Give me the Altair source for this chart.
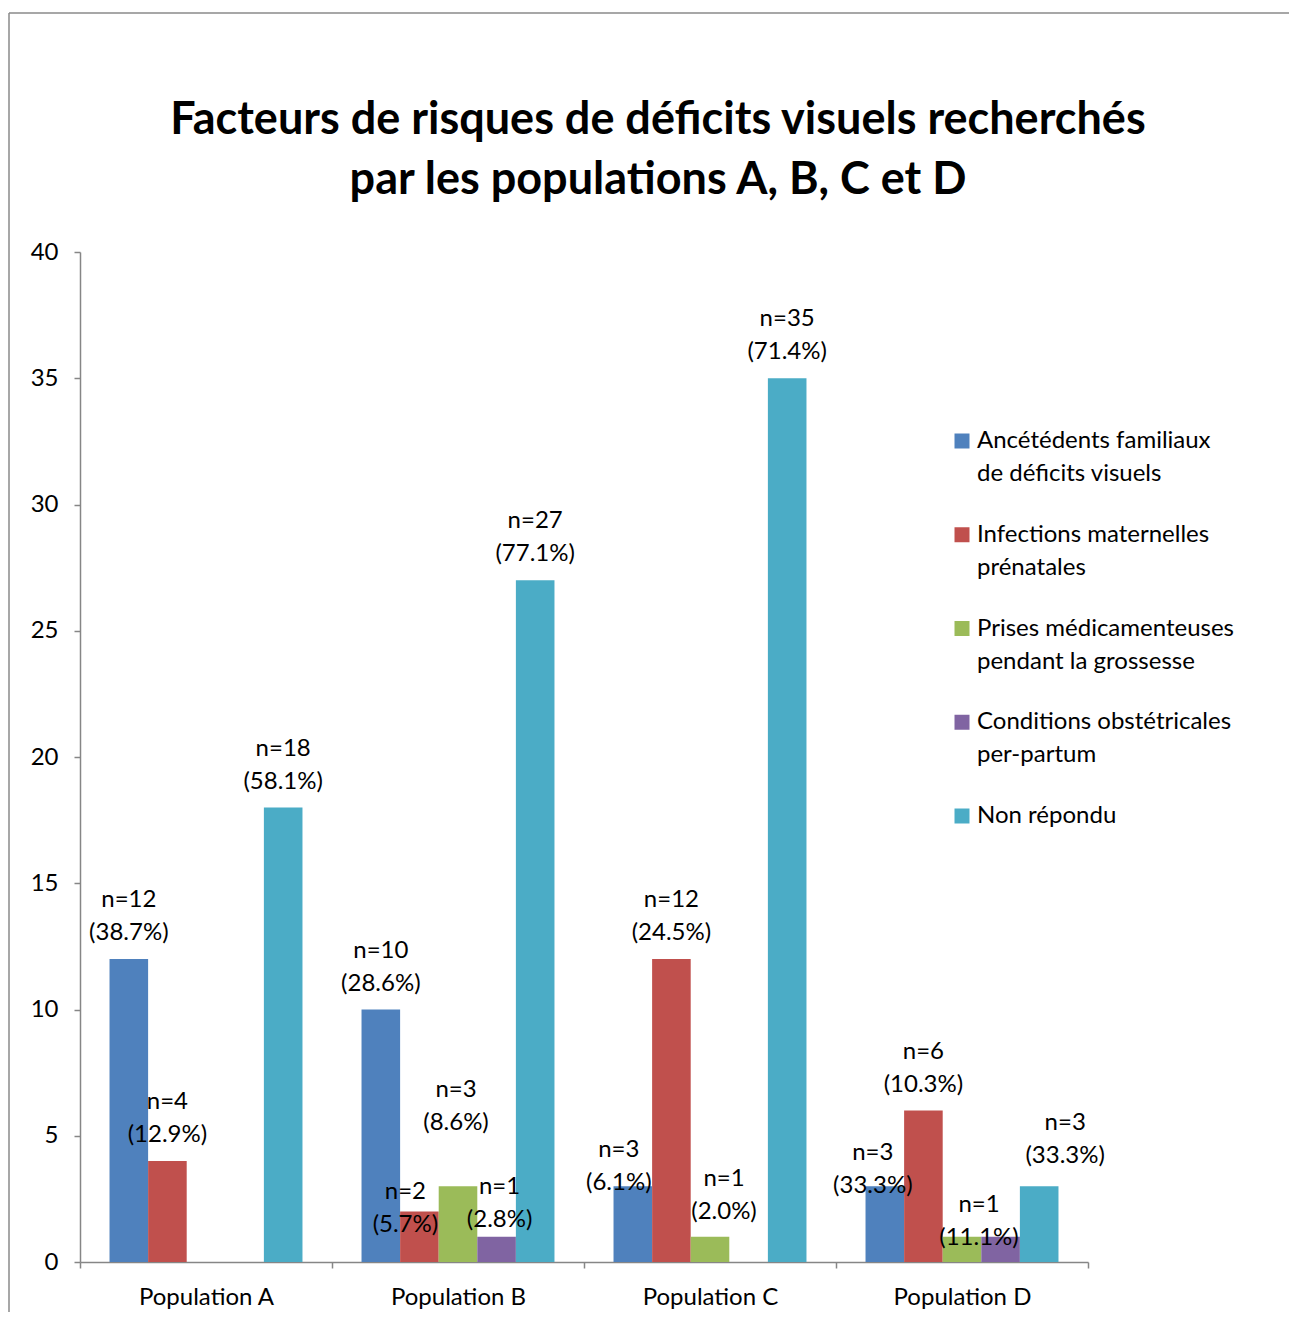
import altair as alt
import pandas as pd

populations = ["Population A", "Population B", "Population C", "Population D"]
series = [
    "Ancétédents familiaux\nde déficits visuels",
    "Infections maternelles\nprénatales",
    "Prises médicamenteuses\npendant la grossesse",
    "Conditions obstétricales\nper-partum",
    "Non répondu",
]
colors = ["#4F81BD", "#C0504D", "#9BBB59", "#8064A2", "#4BACC6"]

counts_a = [12, 4, 0, 0, 18]
counts_b = [10, 2, 3, 1, 27]
counts_c = [3, 12, 1, 0, 35]
counts_d = [3, 6, 1, 1, 3]

pct_a = [38.7, 12.9, None, None, 58.1]
pct_b = [28.6, 5.7, 8.6, 2.8, 77.1]
pct_c = [6.1, 24.5, 2.0, None, 71.4]
pct_d = [33.3, 10.3, 11.1, None, 33.3]

y_ticks = [0, 5, 10, 15, 20, 25, 30, 35, 40]

title_lines = [
    "Facteurs de risques de déficits visuels recherchés",
    "par les populations A, B, C et D",
]

# label placement nudges (pixels) where the original chart shifted labels
label_nudges = {
    ("Population B", 1): (-14, 39),
    ("Population B", 2): (-2, -37),
    ("Population B", 3): (3, 9),
    ("Population C", 0): (-14, 23),
    ("Population C", 2): (14, 1),
    ("Population D", 0): (-12, 26),
    ("Population D", 2): (17, 27),
    ("Population D", 4): (26, -4),
}

FONT = "Lato"
FS = 24
AXIS_GREY = "#868686"
LABEL_DY = -47

rows = []
for pop, cnts, pcts in zip(populations, [counts_a, counts_b, counts_c, counts_d],
                           [pct_a, pct_b, pct_c, pct_d]):
    for i, (s, c, p) in enumerate(zip(series, cnts, pcts)):
        rows.append({"population": pop, "s": i, "series": s, "n": c, "pct": p})
df = pd.DataFrame(rows)

x_enc = alt.X(
    "population:N",
    sort=populations,
    scale=alt.Scale(paddingInner=0, paddingOuter=0),
    axis=alt.Axis(
        title=None, tickBand="extent", labelAngle=0, labelPadding=17,
        tickSize=6, labelFontSize=FS,
    ),
)
xoff_enc = alt.XOffset(
    "series:N", sort=series,
    scale=alt.Scale(domain=series, paddingInner=0, paddingOuter=0.765),
)
y_enc = alt.Y(
    "n:Q",
    scale=alt.Scale(domain=[0, 40], nice=False),
    axis=alt.Axis(title=None, values=y_ticks, grid=False, tickSize=6,
                  labelPadding=16, labelFontSize=FS),
)
color_enc = alt.Color(
    "series:N", scale=alt.Scale(domain=series, range=colors), legend=None
)

bars = alt.Chart(df).mark_bar().encode(
    x=x_enc, xOffset=xoff_enc, y=y_enc, color=color_enc
)

label_expr = "['n=' + datum.n, '(' + format(datum.pct, '.1f') + '%)']"
text_base = alt.Chart(df).transform_filter("isValid(datum.pct)").transform_calculate(
    label=label_expr
)

exclude = " && ".join(
    f"!(datum.population == '{p}' && datum.s == {s})" for (p, s) in label_nudges
)
layers = [bars]
layers.append(
    text_base.transform_filter(exclude)
    .mark_text(baseline="bottom", dy=LABEL_DY, fontSize=FS, lineHeight=33,
               font=FONT, color="black")
    .encode(x=x_enc, xOffset=xoff_enc, y=y_enc, text="label:N")
)
for (p, s), (ndx, ndy) in label_nudges.items():
    layers.append(
        text_base.transform_filter(f"datum.population == '{p}' && datum.s == {s}")
        .mark_text(baseline="bottom", dx=ndx, dy=LABEL_DY + ndy, fontSize=FS,
                   lineHeight=33, font=FONT, color="black")
        .encode(x=x_enc, xOffset=xoff_enc, y=y_enc, text="label:N")
    )

# legend drawn by hand (two-line entries)
LEG_X, LEG_Y, LEG_STEP = 882, 189, 93.75
for i, (name, col) in enumerate(zip(series, colors)):
    src = alt.Chart(alt.Data(values=[{"lines": name.split("\n")}]))
    yy = LEG_Y + i * LEG_STEP
    layers.append(
        src.mark_square(size=225, color=col, opacity=1).encode(
            x=alt.value(LEG_X), y=alt.value(yy)
        )
    )
    layers.append(
        src.mark_text(align="left", baseline="middle", fontSize=FS, lineHeight=33,
                      font=FONT, color="black").encode(
            x=alt.value(LEG_X + 15), y=alt.value(yy), text="lines:N"
        )
    )

frame_src = alt.Chart(alt.Data(values=[{}]))
frame_top = frame_src.mark_rule(color="#8a8a8a", strokeWidth=1.5).encode(
    x=alt.value(-71), x2=alt.value(1217), y=alt.value(-239)
)
frame_left = frame_src.mark_rule(color="#8a8a8a", strokeWidth=1.5).encode(
    x=alt.value(-71), y=alt.value(-239), y2=alt.value(1068)
)
layers += [frame_top, frame_left]

chart = alt.layer(*layers).properties(
    width=1008,
    height=1010,
    autosize=alt.AutoSizeParams(type="none"),
    padding={"left": 72, "top": 244, "right": 201, "bottom": 50},
    title=alt.TitleParams(
        text=title_lines, font=FONT, fontSize=45, fontWeight="bold",
        anchor="middle", dx=74, offset=-191, lineHeight=60, color="black",
    ),
).configure_view(stroke=None).configure_axis(
    domainColor=AXIS_GREY, tickColor=AXIS_GREY, labelColor="black",
    labelFont=FONT, domainWidth=1.5, tickWidth=1.5,
)

chart.save("out.html", embed_options={"renderer": "svg", "actions": False})
